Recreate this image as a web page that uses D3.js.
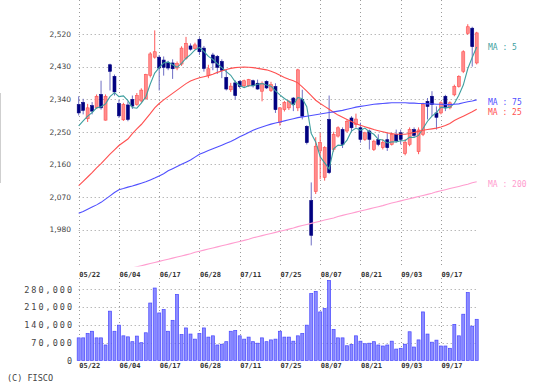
<!DOCTYPE html>
<html>
<head>
<meta charset="utf-8">
<script src="https://cdn.jsdelivr.net/npm/d3@7"></script>
<style>
  html, body { margin: 0; padding: 0; background: #fff; }
  svg { display: block; }
</style>
</head>
<body>
<svg id="chart" width="543" height="390"></svg>
<script>
// ---------------- DATA ----------------
const dateLabels = ["05/22","06/04","06/17","06/28","07/11","07/25","08/07","08/21","09/03","09/17"];
const dateLabelIndex = [0, 9, 18, 27, 36, 45, 54, 63, 72, 81];
const priceTicks = [1980, 2070, 2160, 2250, 2340, 2430, 2520];
const volumeTicks = [0, 70000, 140000, 210000, 280000];

const open = [2325,2331,2286,2322,2316,2353,2282,2435,2403,2328,
  2283,2324,2339,2325,2335,2341,2406,2456,2456,2448,
  2441,2440,2426,2437,2453,2487,2480,2505,2481,2405,
  2462,2458,2444,2400,2366,2385,2389,2377,2377,2391,
  2384,2362,2389,2364,2375,2275,2311,2316,2343,2316,
  2339,2265,2060,2085,2197,2124,2284,2201,2238,2256,
  2252,2288,2270,2261,2229,2252,2201,2229,2206,2228,
  2215,2243,2247,2190,2215,2256,2195,2243,2334,2348,
  2302,2302,2348,2316,2352,2375,2417,2522,2536,2440];
const high = [2348,2341,2327,2332,2353,2391,2353,2438,2408,2338,
  2330,2334,2350,2357,2370,2410,2470,2530,2462,2458,
  2446,2450,2444,2486,2512,2494,2496,2511,2487,2435,
  2468,2462,2450,2421,2385,2392,2392,2394,2396,2394,
  2394,2389,2392,2388,2384,2318,2335,2338,2346,2424,
  2366,2268,2110,2235,2247,2210,2350,2250,2265,2262,
  2284,2293,2300,2275,2250,2256,2228,2243,2229,2246,
  2247,2256,2256,2230,2262,2262,2262,2330,2343,2362,
  2320,2334,2352,2334,2380,2406,2475,2547,2540,2526];
const low = [2295,2298,2277,2298,2313,2311,2281,2364,2350,2288,
  2280,2279,2313,2322,2330,2339,2400,2452,2364,2405,
  2420,2396,2420,2432,2449,2474,2477,2462,2416,2398,
  2420,2410,2398,2364,2360,2339,2370,2372,2374,2372,
  2366,2334,2368,2360,2302,2267,2306,2310,2307,2307,
  2284,2215,1936,2078,2119,2115,2133,2195,2234,2205,
  2248,2250,2262,2220,2225,2201,2197,2210,2201,2197,
  2212,2220,2215,2185,2210,2234,2188,2238,2284,2293,
  2256,2298,2307,2312,2348,2372,2412,2518,2430,2436];
const close = [2302,2309,2316,2307,2348,2316,2348,2417,2360,2294,
  2325,2284,2321,2350,2365,2408,2465,2471,2426,2428,
  2426,2424,2438,2481,2494,2478,2490,2471,2425,2424,
  2440,2428,2420,2368,2376,2350,2375,2391,2394,2377,
  2368,2384,2371,2380,2311,2316,2331,2334,2325,2421,
  2293,2220,1964,2210,2220,2206,2137,2243,2261,2215,
  2279,2261,2285,2229,2247,2229,2224,2215,2220,2206,
  2243,2225,2229,2221,2256,2240,2255,2325,2320,2325,
  2290,2330,2316,2330,2375,2403,2471,2540,2485,2523];
const volume = [89000,89000,106000,115000,89000,89000,61000,194000,115000,139000,
  97000,93000,74000,96000,70000,109000,226000,285000,187000,200000,
  115000,158000,260000,102000,128000,104000,84000,106000,128000,92000,
  97000,61000,64000,74000,115000,118000,97000,84000,92000,74000,
  68000,89000,74000,81000,84000,115000,92000,92000,76000,97000,
  106000,139000,263000,272000,191000,204000,315000,122000,89000,89000,
  58000,63000,97000,76000,66000,68000,74000,61000,57000,61000,
  76000,45000,48000,64000,113000,53000,81000,191000,104000,72000,
  80000,57000,57000,48000,142000,97000,182000,267000,135000,162000];
const ma5 = [2266,2280,2293,2303,2316,2319,2327,2347,2358,2347,
  2349,2336,2317,2315,2329,2346,2382,2412,2427,2440,
  2443,2435,2428,2439,2453,2463,2476,2483,2472,2458,
  2450,2438,2427,2416,2406,2388,2378,2372,2377,2377,
  2381,2383,2379,2376,2363,2352,2342,2334,2323,2345,
  2341,2319,2245,2222,2181,2164,2147,2203,2213,2212,
  2227,2252,2260,2254,2260,2250,2243,2229,2227,2219,
  2222,2222,2225,2225,2235,2234,2240,2259,2279,2293,
  2303,2318,2316,2318,2328,2351,2379,2424,2455,2484];
const ma25 = [2101,2113,2125,2137,2150,2162,2175,2188,2200,2212,
  2221,2230,2245,2258,2270,2285,2300,2316,2328,2338,
  2347,2356,2365,2374,2383,2390,2395,2399,2402,2405,
  2409,2414,2418,2422,2425,2427,2428,2429,2428,2427,
  2425,2423,2421,2417,2412,2406,2400,2395,2391,2385,
  2374,2362,2350,2337,2328,2320,2312,2304,2296,2290,
  2284,2278,2272,2268,2264,2260,2256,2253,2250,2247,
  2245,2243,2243,2243,2245,2248,2251,2254,2256,2258,
  2260,2263,2267,2273,2281,2287,2293,2299,2305,2312];
const ma75 = [2025,2030,2036,2042,2048,2055,2064,2073,2082,2090,
  2093,2097,2100,2104,2108,2112,2117,2122,2128,2134,
  2142,2148,2154,2160,2166,2172,2180,2188,2193,2198,
  2203,2208,2213,2218,2223,2229,2236,2242,2248,2254,
  2259,2263,2267,2271,2274,2277,2280,2283,2286,2289,
  2291,2293,2295,2297,2299,2301,2303,2305,2307,2309,
  2312,2315,2318,2320,2322,2324,2326,2327,2328,2329,
  2330,2330,2330,2330,2329,2329,2328,2328,2327,2327,
  2326,2326,2325,2325,2326,2327,2330,2333,2335,2338];
const ma200 = [1838,1841,1844,1847,1850,1853,1856,1859,1862,1865,
  1868,1871,1874,1877,1880,1883,1886,1889,1892,1895,
  1898,1901,1904,1907,1910,1913,1917,1920,1923,1926,
  1929,1932,1935,1938,1941,1944,1947,1950,1953,1957,
  1960,1963,1966,1969,1972,1975,1978,1981,1984,1988,
  1991,1994,1997,2000,2003,2006,2009,2012,2016,2019,
  2022,2025,2028,2031,2034,2037,2040,2043,2046,2050,
  2053,2056,2059,2062,2065,2068,2071,2074,2077,2080,
  2084,2087,2090,2093,2096,2099,2102,2105,2109,2112];

const maSeries = [
  {name: "MA : 5",   values: ma5,   color: "#3f9f9f", labelY: 50},
  {name: "MA : 25",  values: ma25,  color: "#ff5050", labelY: 115},
  {name: "MA : 75",  values: ma75,  color: "#5050ff", labelY: 104.5},
  {name: "MA : 200", values: ma200, color: "#ff9ccf", labelY: 187}
];

// ---------------- LAYOUT ----------------
const svg = d3.select("#chart");
const W = 543, H = 390;
svg.append("rect").attr("width", W).attr("height", H).attr("fill", "#fff");

const plotLeft = 78.7, plotRight = 478;
const n = close.length;
const idx = d3.range(n);
const x = d3.scalePoint().domain(idx).range([78.7, 476.7]);
const yP = d3.scaleLinear().domain([1980, 2520]).range([229.5, 34]);
const yV = d3.scaleLinear().domain([0, 280000]).range([360.5, 289.3]);

const priceTop = 0, priceBottom = 266.5;
const volTop = 278, volBottom = 362;

const gridColor = "#9a9a9a";
const dash = "1,3";

const defs = svg.append("defs");
defs.append("clipPath").attr("id", "clipP")
  .append("rect").attr("x", 74).attr("y", priceTop).attr("width", 408).attr("height", priceBottom - priceTop);

// left border artifact
svg.append("line").attr("x1", 0.5).attr("x2", 0.5).attr("y1", 93).attr("y2", 183)
  .attr("stroke", "#cfcfcf").attr("stroke-width", 1);

// ---------------- GRID ----------------
const grid = svg.append("g");
grid.selectAll(".hp").data(priceTicks).join("line")
  .attr("x1", plotLeft).attr("x2", plotRight)
  .attr("y1", d => Math.round(yP(d)) + 0.5).attr("y2", d => Math.round(yP(d)) + 0.5)
  .attr("stroke", gridColor).attr("stroke-dasharray", dash);
grid.selectAll(".hv").data(volumeTicks.filter(d => d > 0)).join("line")
  .attr("x1", plotLeft).attr("x2", plotRight)
  .attr("y1", d => Math.round(yV(d)) + 0.5).attr("y2", d => Math.round(yV(d)) + 0.5)
  .attr("stroke", gridColor).attr("stroke-dasharray", dash);
grid.selectAll(".vp").data(dateLabelIndex).join("line")
  .attr("x1", d => Math.round(x(d)) + 0.5).attr("x2", d => Math.round(x(d)) + 0.5)
  .attr("y1", priceTop).attr("y2", priceBottom)
  .attr("stroke", gridColor).attr("stroke-dasharray", dash);
grid.selectAll(".vv").data(dateLabelIndex).join("line")
  .attr("x1", d => Math.round(x(d)) + 0.5).attr("x2", d => Math.round(x(d)) + 0.5)
  .attr("y1", volTop).attr("y2", volBottom)
  .attr("stroke", gridColor).attr("stroke-dasharray", dash);

// ---------------- AXES (labels) ----------------
const axP = svg.append("g").attr("transform", "translate(71,0)")
  .call(d3.axisLeft(yP).tickValues(priceTicks).tickSize(0).tickPadding(0).tickFormat(d3.format(",")));
axP.select(".domain").remove();
axP.selectAll("text").attr("font-family", "DejaVu Sans, Verdana, sans-serif")
  .attr("font-size", "7.5px").attr("fill", "#444");

const axV = svg.append("g").attr("transform", "translate(74,0)")
  .call(d3.axisLeft(yV).tickValues(volumeTicks).tickSize(0).tickPadding(0).tickFormat(d3.format(",")));
axV.select(".domain").remove();
axV.selectAll("text").attr("font-family", "DejaVu Sans Mono, monospace")
  .attr("font-size", "8.5px").attr("letter-spacing", "2px").attr("fill", "#444");

function dateAxis(yPos) {
  const g = svg.append("g").attr("transform", `translate(0,${yPos})`)
    .call(d3.axisBottom(x).tickValues(dateLabelIndex).tickSize(0).tickPadding(0)
      .tickFormat((d, i) => dateLabels[i]));
  g.select(".domain").remove();
  g.selectAll("text").attr("text-anchor", "start").attr("dy", 0).attr("y", 0)
    .attr("font-family", "DejaVu Sans Mono, monospace").attr("font-weight", "bold")
    .attr("font-size", "7px").attr("fill", "#333");
}
dateAxis(277);
dateAxis(368);

// ---------------- CANDLES ----------------
const cg = svg.append("g").attr("clip-path", "url(#clipP)");
const bw = 3;
const candles = cg.selectAll(".c").data(idx).join("g");
candles.append("line")
  .attr("x1", i => x(i)).attr("x2", i => x(i))
  .attr("y1", i => yP(high[i])).attr("y2", i => yP(low[i]))
  .attr("stroke", i => close[i] >= open[i] ? "#ff5a5a" : "#6f6fc4")
  .attr("stroke-width", 1);
candles.append("rect")
  .attr("x", i => x(i) - bw / 2)
  .attr("y", i => yP(Math.max(open[i], close[i])))
  .attr("width", bw)
  .attr("height", i => Math.max(1, Math.abs(yP(open[i]) - yP(close[i]))))
  .attr("fill", i => close[i] >= open[i] ? "#ff8c8c" : "#000080")
  .attr("stroke", i => close[i] >= open[i] ? "#ff5050" : "#000080")
  .attr("stroke-width", 0.6);

// ---------------- MOVING AVERAGES ----------------
const line = d3.line().x((d, i) => x(i)).y(d => yP(d));
const mg = svg.append("g").attr("clip-path", "url(#clipP)");
maSeries.forEach(s => {
  mg.append("path").attr("d", line(s.values)).attr("fill", "none")
    .attr("stroke", s.color).attr("stroke-width", 1.1);
});
svg.selectAll(".lg").data(maSeries).join("text")
  .attr("x", 488).attr("y", d => d.labelY)
  .attr("font-family", "DejaVu Sans Mono, monospace").attr("font-size", "8px")
  .attr("fill", d => d.color).text(d => d.name);

// ---------------- VOLUME ----------------
svg.append("g").selectAll("rect").data(idx).join("rect")
  .attr("x", i => x(i) - 1.5)
  .attr("y", i => yV(volume[i]))
  .attr("width", 3)
  .attr("height", i => yV(0) - yV(volume[i]))
  .attr("fill", "#8c8cff").attr("stroke", "#4646ff").attr("stroke-width", 0.7);

// ---------------- FOOTER ----------------
svg.append("text").attr("x", 7).attr("y", 381)
  .attr("font-family", "DejaVu Sans Mono, monospace").attr("font-size", "8.5px")
  .attr("fill", "#444").text("(C) FISCO");
</script>
</body>
</html>
